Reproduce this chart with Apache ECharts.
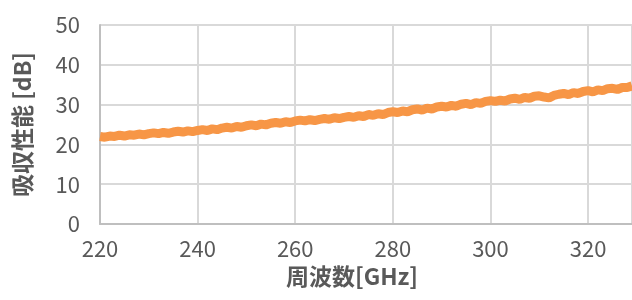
<!DOCTYPE html>
<html>
<head>
<meta charset="utf-8">
<script src="https://cdn.jsdelivr.net/npm/echarts@6/dist/echarts.min.js"></script>
<style>html,body{margin:0;padding:0;background:#fff;}#chart{width:632px;height:300px;}</style>
</head>
<body>
<div id="chart"></div>
<script>
var frequencies = [];
for (var f = 220; f <= 329; f++) frequencies.push(f);
var absorption = [
22.0,21.8,22.1,22.0,22.3,22.1,22.4,22.3,22.6,22.4,
22.7,22.9,22.7,23.0,22.8,23.1,23.3,23.1,23.4,23.2,
23.5,23.7,23.5,23.9,23.7,24.1,24.3,24.1,24.5,24.3,
24.7,24.9,24.7,25.1,24.9,25.3,25.5,25.3,25.7,25.5,
25.9,26.1,25.9,26.2,26.0,26.3,26.5,26.3,26.7,26.5,
26.8,27.0,26.8,27.2,27.0,27.5,27.3,27.7,27.5,28.0,
28.2,28.0,28.4,28.2,28.7,28.9,28.6,29.1,28.9,29.4,
29.6,29.4,29.8,29.6,30.1,30.3,30.0,30.5,30.3,30.8,
31.0,30.8,31.1,30.9,31.4,31.6,31.3,31.8,31.6,32.1,
32.2,31.9,31.7,32.3,32.6,32.8,32.5,33.0,32.8,33.3,
33.5,33.2,33.7,33.5,34.0,34.1,33.8,34.3,34.3,34.7
];
var xTicks = [220, 240, 260, 280, 300, 320];
var yTicks = [0, 10, 20, 30, 40, 50];
var xTitle = '周波数[GHz]';
var yTitle = '吸収性能 [dB]';

var pts = frequencies.map(function (x, i) { return [x, absorption[i]]; });
var chart = echarts.init(document.getElementById('chart'), null, {renderer: 'canvas'});
var font = '"Noto Sans CJK JP", "Noto Sans", sans-serif';
chart.setOption({
  animation: false,
  grid: {left: 100, right: 0, top: 25, bottom: 76, containLabel: false},
  xAxis: {
    type: 'value', min: xTicks[0], max: 329, interval: 20,
    name: xTitle, nameLocation: 'middle', nameGap: 41,
    nameTextStyle: {color: '#595959', fontSize: 23, fontWeight: 'bold', fontFamily: font, padding: [0, 28, 0, 0]},
    axisLine: {show: true, lineStyle: {color: '#bfbfbf', width: 2}},
    axisTick: {show: false},
    axisLabel: {color: '#595959', fontSize: 22, fontFamily: font, margin: 14, showMaxLabel: false},
    splitLine: {show: true, lineStyle: {color: '#d9d9d9', width: 2}}
  },
  yAxis: {
    type: 'value', min: yTicks[0], max: yTicks[yTicks.length - 1], interval: 10,
    name: yTitle, nameLocation: 'middle', nameGap: 66, nameRotate: 90,
    nameTextStyle: {color: '#595959', fontSize: 23, fontWeight: 'bold', fontFamily: font},
    axisLine: {show: true, lineStyle: {color: '#bfbfbf', width: 2}},
    axisTick: {show: false},
    axisLabel: {color: '#595959', fontSize: 22, fontFamily: font, margin: 20},
    splitLine: {show: true, lineStyle: {color: '#d9d9d9', width: 2}}
  },
  series: [{
    type: 'line', data: pts, showSymbol: false,
    lineStyle: {color: '#F79646', width: 9},
    itemStyle: {color: '#F79646'}
  }]
});
</script>
</body>
</html>
